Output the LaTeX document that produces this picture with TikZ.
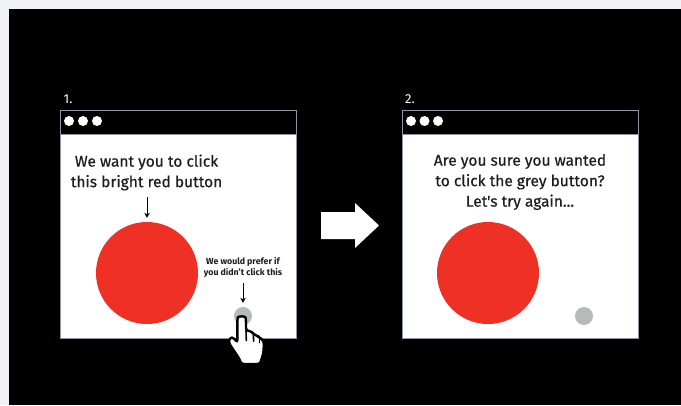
\documentclass[tikz,border=0pt]{standalone}
\usepackage{fontspec}
\setmainfont{Fira Sans}
\newfontfamily\msgfont[FakeBold=0.5]{Fira Sans}
\usetikzlibrary{arrows.meta}
\definecolor{pagebg}{HTML}{F0F2F5}
\definecolor{btnred}{HTML}{EE3124}
\definecolor{btngrey}{HTML}{B8BABA}
\definecolor{edge}{HTML}{8C96A6}
\definecolor{ink}{HTML}{1E1E1E}
\tikzset{
  winbody/.style={draw=edge,line width=1pt,fill=white,minimum width=236pt,minimum height=228pt,inner sep=0pt,anchor=north west},
  winbar/.style={draw=edge,line width=1pt,fill=black,minimum width=236pt,minimum height=24pt,inner sep=0pt,anchor=north west},
  dot/.style={circle,fill=white,minimum size=10pt,inner sep=0pt},
  redbtn/.style={circle,fill=btnred,minimum size=102pt,inner sep=0pt},
  greybtn/.style={circle,fill=btngrey,minimum size=18pt,inner sep=0pt},
  msg/.style={text=ink,align=center,font=\fontsize{15.5}{20.5}\selectfont\msgfont,inner sep=0pt},
  smallmsg/.style={text=ink,align=center,font=\fontsize{8.8}{11.5}\selectfont\bfseries,inner sep=0pt},
  steplabel/.style={text=white,font=\fontsize{13}{15}\selectfont,inner sep=0pt},
  pointer/.style={draw=black,line width=1pt,-{Stealth[length=5pt,width=5.5pt]},shorten >=4pt}
}
\begin{document}
\begin{tikzpicture}[x=1pt,y=-1pt]
\useasboundingbox (0,0) rectangle (681,405);
\fill[pagebg] (0,0) rectangle (681,405);
\fill[black] (9,9) rectangle (681,405);
% window 1
\node[steplabel] (n1) at (68,99) {1.};
\node[winbody] (w1) at (60,110) {};
\node[winbar] (b1) at (60,110) {};
\node[dot] (d11) at (69,121) {};
\node[dot] (d12) at (83,121) {};
\node[dot] (d13) at (97,121) {};
\node[msg] (t1) at (146.5,172.5) {We want you to click\\this bright red button};
\node[redbtn] (r1) at (147,273) {};
\node[smallmsg] (t2) at (243,267.5) {We would prefer if\\you didn't click this};
\node[greybtn] (g1) at (243,316) {};
\draw[pointer] (t1.south -| r1) ++(0,6) coordinate (p1) -- (r1.north);
\draw[pointer] (t2.south) ++(0,5) coordinate (p2) -- (g1.north);
% hand
\begin{scope}[shift={(222,300)},x=0.3333pt,y=-0.3333pt]
\draw[fill=white,draw=black,line width=2.4pt,line join=round,rounded corners=2.5pt]
 (46,60) .. controls (48,48) and (70,48) .. (72,60)
 -- (72,92) -- (90,94) -- (94,104) -- (106,106) -- (112,114) -- (122,118) -- (126,130)
 -- (124,160) -- (114,192) -- (58,192) -- (52,176) -- (20,128) -- (24,112) -- (36,114) -- (46,128) -- cycle;
\draw[black,line width=1.6pt,line cap=round] (72,92) -- (73,122);
\draw[black,line width=1.6pt,line cap=round] (94,104) -- (95,124);
\draw[black,line width=1.6pt,line cap=round] (112,114) -- (112,128);
\end{scope}
% arrow between
\fill[white] (321,212) -- (355,212) -- (355,203) -- (379,225.5) -- (355,248) -- (355,239) -- (321,239) -- cycle;
% window 2
\node[steplabel] (n2) at (410,99) {2.};
\node[winbody] (w2) at (402,110) {};
\node[winbar] (b2) at (402,110) {};
\node[dot] (d21) at (411,121) {};
\node[dot] (d22) at (424.5,121) {};
\node[dot] (d23) at (438,121) {};
\node[msg] (t3) at (520,182) {Are you sure you wanted\\to click the grey button?\\Let's try again...};
\node[redbtn] (r2) at (488,273) {};
\node[greybtn] (g2) at (584,316) {};
\end{tikzpicture}
\end{document}
